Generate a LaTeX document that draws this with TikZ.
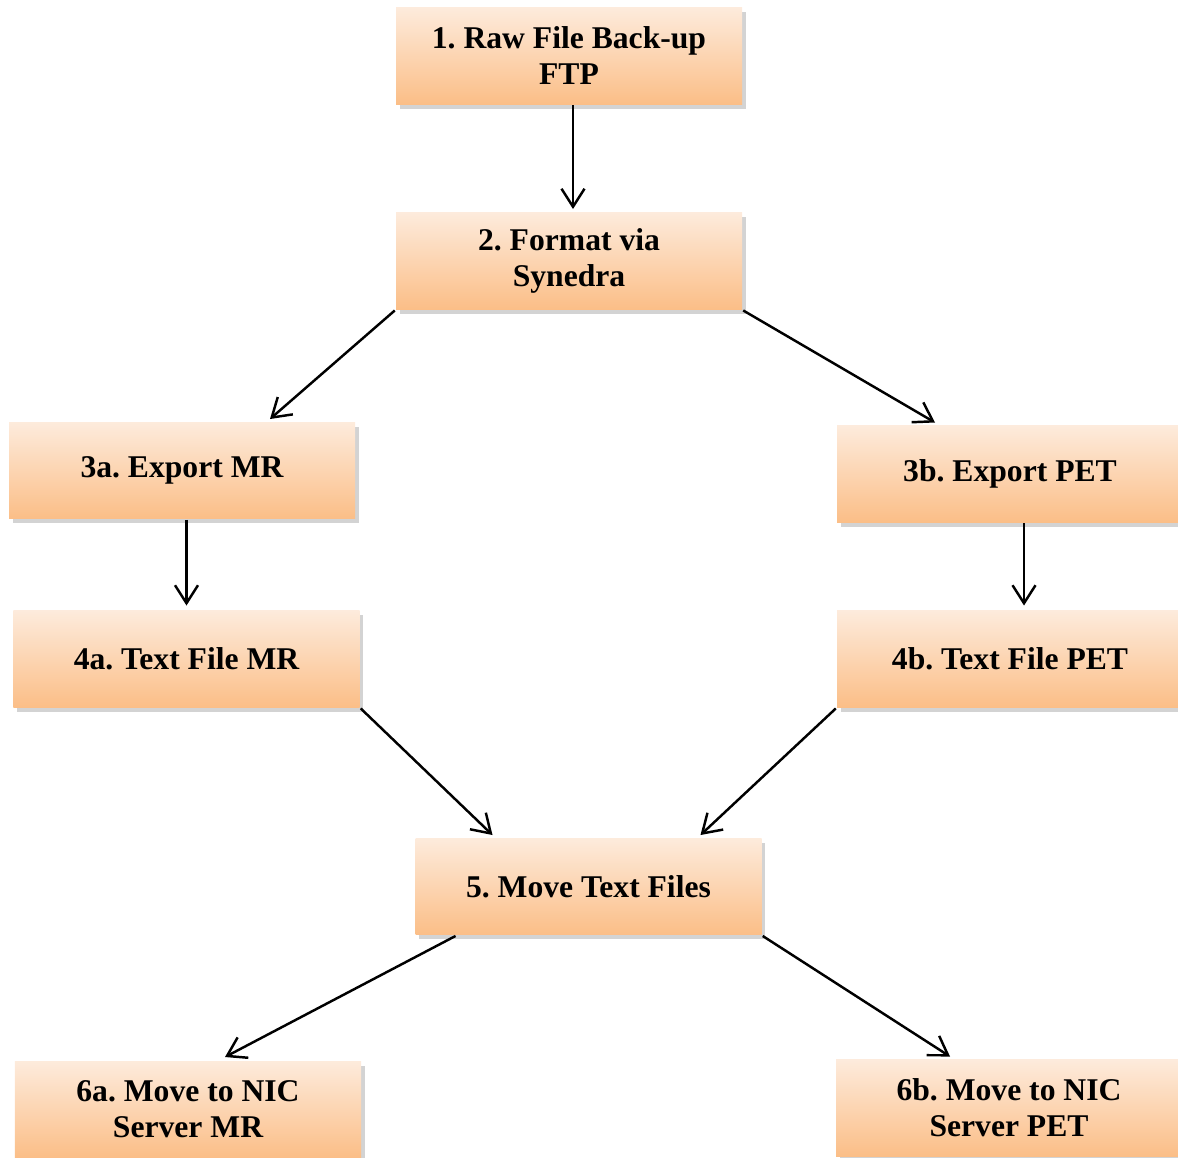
\documentclass[tikz,border=0pt]{standalone}
\usepackage{fontspec}
\setmainfont{Liberation Serif}
\usetikzlibrary{arrows.meta,shadows}

\begin{document}
\frenchspacing
\begin{tikzpicture}[>={Straight Barb[length=3.6mm,width=4.6mm]},line width=1.4pt,
  stufe/.style={minimum width=6.92cm,minimum height=1.93cm,align=center,
    top color={rgb,255:red,253;green,235;blue,220},
    bottom color={rgb,255:red,251;green,190;blue,135},
    drop shadow={shadow xshift=2pt,shadow yshift=-2.5pt,opacity=0.35,fill=gray},
    font=\fontsize{18}{20.5}\selectfont\bfseries}]

\useasboundingbox (0,0) rectangle (23.56,-23.16);

% Export und Formatierung
\node[stufe] (raw) at (11.38,-1.12) {1. Raw File Back-up\\FTP};
\node[stufe] (format) at (11.38,-5.22) {2. Format via\\Synedra};

% Zweig MR
\node[stufe] (exportmr) at (3.64,-9.41) {3a. Export MR};
\node[stufe] (textmr) at (3.73,-13.18) {4a. Text File MR};

% Zweig PET
\node[stufe] (exportpet) at (20.2,-9.48) {3b. Export PET};
\node[stufe] (textpet) at (20.2,-13.18) {4b. Text File PET};

% Zusammenfuehrung
\node[stufe] (move) at (11.77,-17.73) {5. Move Text Files};

% Server
\node[stufe] (nicmr) at (3.76,-22.19) {6a. Move to NIC\\Server MR};
\node[stufe] (nicpet) at (20.18,-22.16) {6b. Move to NIC\\Server PET};

% Pfeile
\draw[->] ([xshift=0.08cm]raw.south) -- ([xshift=0.08cm,yshift=0.05cm]format.north);
\draw[->] (format.south west) -- ([xshift=1.76cm,yshift=0.04cm]exportmr.north);
\draw[->] (format.south east) -- ([xshift=-1.5cm,yshift=0.04cm]exportpet.north);
\draw[->] (textmr.north |- exportmr.south) -- ([yshift=0.08cm]textmr.north);
\draw[->] ([xshift=0.28cm]exportpet.south) -- ([xshift=0.28cm,yshift=0.08cm]textpet.north);
\draw[->] (textmr.south east) -- ([xshift=-1.92cm,yshift=0.04cm]move.north);
\draw[->] (textpet.south west) -- ([xshift=2.24cm,yshift=0.04cm]move.north);
\draw[->] ([xshift=-2.66cm]move.south) -- ([xshift=0.74cm,yshift=0.06cm]nicmr.north);
\draw[->] (move.south east) -- ([xshift=-1.18cm,yshift=0.04cm]nicpet.north);

\end{tikzpicture}
\end{document}
